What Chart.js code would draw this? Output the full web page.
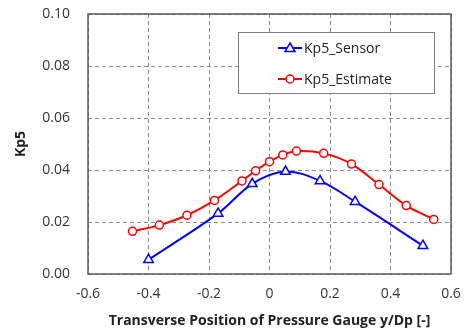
<!DOCTYPE html>
<html>
<head>
<meta charset="utf-8">
<script src="https://cdn.jsdelivr.net/npm/chart.js@4"></script>
<style>
  html, body { margin: 0; padding: 0; background: #fff; }
  #wrap { width: 464px; height: 329px; }
</style>
</head>
<body>
<div id="wrap"><canvas id="chart" width="464" height="329"></canvas></div>
<script>
// values
const sensorX = [-0.40, -0.17, -0.057, 0.053, 0.167, 0.283, 0.507];
const sensorY = [0.0055, 0.0233, 0.0347, 0.0394, 0.0358, 0.0278, 0.0109];
const estimateX = [-0.453, -0.364, -0.273, -0.182, -0.091, -0.046, 0.0, 0.044, 0.089, 0.179, 0.271, 0.362, 0.452, 0.543];
const estimateY = [0.0164, 0.0188, 0.0226, 0.0283, 0.0358, 0.0397, 0.0432, 0.0458, 0.0473, 0.0464, 0.0423, 0.0344, 0.0263, 0.0210];
const xTicks = [-0.6, -0.4, -0.2, 0, 0.2, 0.4, 0.6];
const yTicks = [0, 0.02, 0.04, 0.06, 0.08, 0.10];

const font = '"Open Sans", "Liberation Sans", sans-serif';

function toPoints(xs, ys) {
    return xs.map((x, i) => ({ x: x, y: ys[i] }));
}

// frame around the plot area plus the boxed legend inside it
const framePlugin = {
    id: 'frame',
    afterDatasetsDraw(chart) {
        const ctx = chart.ctx;
        const a = chart.chartArea;
        ctx.save();
        ctx.strokeStyle = '#595959';
        ctx.lineWidth = 1.5;
        ctx.strokeRect(a.left, a.top, a.right - a.left, a.bottom - a.top);

        const bx = 238, by = 32, bw = 196, bh = 61;
        ctx.fillStyle = '#fff';
        ctx.fillRect(bx, by, bw, bh);
        ctx.strokeStyle = '#7f7f7f';
        ctx.lineWidth = 1;
        ctx.strokeRect(bx + 0.5, by + 0.5, bw, bh);

        chart.data.datasets.forEach((ds, i) => {
            const y = by + 16 + i * 31;
            const x0 = bx + 40, x1 = bx + 64;
            ctx.strokeStyle = ds.borderColor;
            ctx.lineWidth = 2;
            ctx.beginPath();
            ctx.moveTo(x0, y);
            ctx.lineTo(x1, y);
            ctx.stroke();
            ctx.fillStyle = '#fff';
            ctx.lineWidth = 1.5;
            const cx = (x0 + x1) / 2;
            ctx.beginPath();
            if (ds.pointStyle === 'triangle') {
                ctx.moveTo(cx, y - 5);
                ctx.lineTo(cx + 5, y + 3.5);
                ctx.lineTo(cx - 5, y + 3.5);
                ctx.closePath();
            } else {
                ctx.arc(cx, y, 4, 0, Math.PI * 2);
            }
            ctx.fill();
            ctx.stroke();
            ctx.fillStyle = '#222';
            ctx.font = '14px ' + font;
            ctx.textBaseline = 'middle';
            ctx.fillText(ds.label, x1 + 2, y + 1);
        });
        ctx.restore();
    }
};

new Chart(document.getElementById('chart'), {
    type: 'line',
    data: {
        datasets: [
            {
                label: 'Kp5_Sensor',
                data: toPoints(sensorX, sensorY),
                borderColor: '#0000ff',
                backgroundColor: '#ffffff',
                borderWidth: 2,
                pointStyle: 'triangle',
                pointRadius: 5.5,
                pointBorderWidth: 1.5,
                tension: 0.35,
            },
            {
                label: 'Kp5_Estimate',
                data: toPoints(estimateX, estimateY),
                borderColor: '#ff0000',
                backgroundColor: '#ffffff',
                borderWidth: 2,
                pointStyle: 'circle',
                pointRadius: 4,
                pointBorderWidth: 1.5,
                tension: 0.35,
            },
        ],
    },
    options: {
        responsive: false,
        animation: false,
        layout: { padding: { left: 0, right: 0, top: 0, bottom: 0 } },
        plugins: {
            legend: { display: false },
            tooltip: { enabled: false },
        },
        scales: {
            x: {
                type: 'linear',
                min: -0.6,
                max: 0.6,
                afterBuildTicks: (axis) => { axis.ticks = xTicks.map(v => ({ value: v })); },
                afterFit: (axis) => { axis.height = 55; axis.paddingRight = 13; },
                ticks: {
                    padding: 12,
                    color: '#333',
                    font: { family: font, size: 14 },
                    callback: (v) => (Math.abs(v) < 1e-9 ? '0' : String(Math.round(v * 10) / 10)),
                },
                grid: { color: '#8c8c8c', drawTicks: false, lineWidth: 1 },
                border: { display: false, dash: [4, 3] },
                title: {
                    display: true,
                    text: 'Transverse Position of Pressure Gauge y/Dp [-]',
                    color: '#222',
                    font: { family: font, size: 14, weight: 'bold' },
                    padding: { top: 2, bottom: 0 },
                },
            },
            y: {
                type: 'linear',
                min: 0,
                max: 0.10,
                afterBuildTicks: (axis) => { axis.ticks = yTicks.map(v => ({ value: v })); },
                afterFit: (axis) => { axis.width = 88; axis.paddingTop = 14; },
                ticks: {
                    padding: 18,
                    color: '#333',
                    font: { family: font, size: 14 },
                    callback: (v) => v.toFixed(2),
                },
                grid: { color: '#8c8c8c', drawTicks: false, lineWidth: 1 },
                border: { display: false, dash: [4, 3] },
                title: {
                    display: true,
                    text: 'Kp5',
                    color: '#222',
                    font: { family: font, size: 14, weight: 'bold' },
                    padding: { top: 13, bottom: 0 },
                },
            },
        },
    },
    plugins: [framePlugin],
});
</script>
</body>
</html>
